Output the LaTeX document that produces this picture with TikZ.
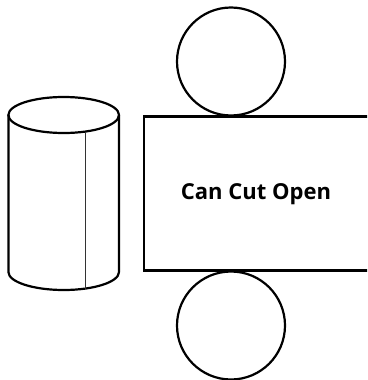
\documentclass[tikz,border=0pt]{standalone}
\usepackage{fontspec}
\setmainfont{Open Sans}
\begin{document}
\begin{tikzpicture}[x=1pt,y=-1pt,
  outline/.style={draw=black,line width=2.2pt},
  seam/.style={draw=black!80,line width=1pt},
  lid/.style={outline,circle,minimum size=108pt,inner sep=0pt}]
\useasboundingbox (0,0) rectangle (367,380);
\clip (0,0) rectangle (367,380);
% cylinder (the can)
\draw[outline] (63.7,115) ellipse [x radius=55.3, y radius=18];
\draw[outline] (8.4,115) -- (8.4,272) arc[start angle=180,end angle=360,x radius=55.3,y radius=-18] -- (119,115);
\draw[seam] (85.7,131.5) -- (85.7,288.5);
% unrolled side and the two lids
\draw[outline] (144,116.5) rectangle (380,270.5);
\node[lid] (top) at (231,61.5) {};
\node[lid] (bottom) at (231,325.5) {};
\node[font=\bfseries\fontsize{22}{24}\selectfont,anchor=base,inner sep=0pt] (label) at (256,199.3) {Can Cut Open};
\end{tikzpicture}
\end{document}
